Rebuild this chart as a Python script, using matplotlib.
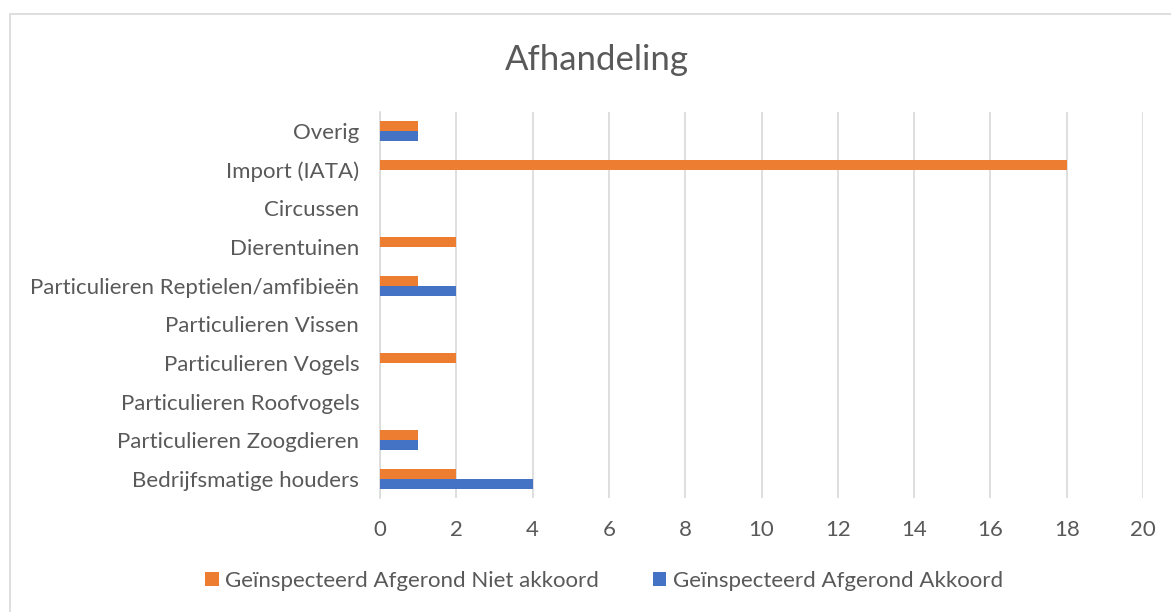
import matplotlib.pyplot as plt
import numpy as np

categories = ['Bedrijfsmatige houders', 'Particulieren Zoogdieren', 'Particulieren Roofvogels',
              'Particulieren Vogels', 'Particulieren Vissen', 'Particulieren Reptielen/amfibieën',
              'Dierentuinen', 'Circussen', 'Import (IATA)', 'Overig']
niet_akkoord = [2, 1, 0, 2, 0, 1, 2, 0, 18, 1]
akkoord = [4, 1, 0, 0, 0, 2, 0, 0, 0, 1]
xticks = [0, 2, 4, 6, 8, 10, 12, 14, 16, 18, 20]

plt.rcParams['font.family'] = ['Lato', 'DejaVu Sans']
txt = '#595959'

fig = plt.figure(figsize=(11.71, 6.12), dpi=100)
ax = fig.add_axes([380/1171, 1-498/612, (1143-380)/1171, (498-112)/612])

y = np.arange(len(categories))
h = 0.258
ax.barh(y + h/2, niet_akkoord, height=h, color='#ED7D31', label='Geïnspecteerd Afgerond Niet akkoord', zorder=3)
ax.barh(y - h/2, akkoord, height=h, color='#4472C4', label='Geïnspecteerd Afgerond Akkoord', zorder=3)

ax.set_xlim(0, 20)
ax.set_ylim(-0.5, len(categories) - 0.5)
ax.set_xticks(xticks)
ax.set_yticks(y)
ax.set_yticklabels(categories)
ax.tick_params(length=0, labelsize=16, colors=txt)
ax.tick_params(axis='x', pad=16)
ax.tick_params(axis='y', pad=15)
ax.grid(axis='x', color='#D9D9D9', linewidth=1.2, zorder=0)
for s in ['top', 'right', 'bottom']:
    ax.spines[s].set_visible(False)
ax.spines['left'].set_color('#D9D9D9')
ax.spines['left'].set_linewidth(1.2)

fig.text(597/1171, 1-60/612, 'Afhandeling', ha='center', va='center', fontsize=25, color=txt)

handles, labels = ax.get_legend_handles_labels()
fig.legend(handles, labels, loc='center', bbox_to_anchor=(604/1171, 1-581/612), ncol=2, frameon=False,
           fontsize=16, labelcolor=txt, handlelength=0.6, handleheight=0.6, columnspacing=2.4, handletextpad=0.3)

# chart border
fig.add_artist(plt.Rectangle((10/1171, -0.1), 1.2, 1-14/612+0.1, transform=fig.transFigure,
                             fill=False, edgecolor='#D9D9D9', linewidth=1.2))

fig.savefig('out.png', dpi=100)
